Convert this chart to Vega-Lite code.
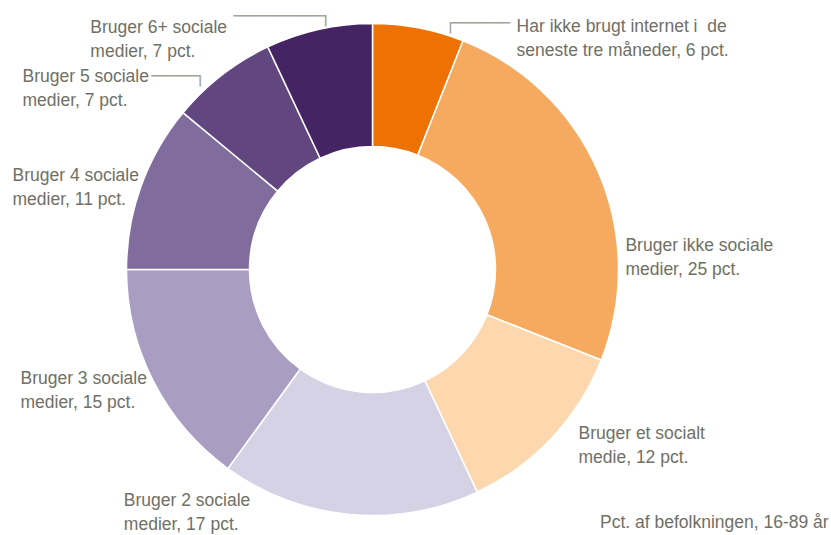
{
  "$schema": "https://vega.github.io/schema/vega-lite/v6.json",
  "width": 745,
  "height": 539,
  "autosize": "none",
  "padding": {"left": 0, "top": 0, "right": 86, "bottom": 0},
  "background": "white",
  "config": {"view": {"stroke": null}},
  "data": {
    "values": [
      {"cat": "Har ikke brugt internet", "label": "Har ikke brugt internet i\u00a0 de\nseneste tre måneder, 6 pct.", "value": 6, "order": 1},
      {"cat": "Bruger ikke sociale medier", "label": "Bruger ikke sociale\nmedier, 25 pct.", "value": 25, "order": 2},
      {"cat": "Bruger et socialt medie", "label": "Bruger et socialt\nmedie, 12 pct.", "value": 12, "order": 3},
      {"cat": "Bruger 2 sociale medier", "label": "Bruger 2 sociale\nmedier, 17 pct.", "value": 17, "order": 4},
      {"cat": "Bruger 3 sociale medier", "label": "Bruger 3 sociale\nmedier, 15 pct.", "value": 15, "order": 5},
      {"cat": "Bruger 4 sociale medier", "label": "Bruger 4 sociale\nmedier, 11 pct.", "value": 11, "order": 6},
      {"cat": "Bruger 5 sociale medier", "label": "Bruger 5 sociale\nmedier, 7 pct.", "value": 7, "order": 7},
      {"cat": "Bruger 6+ sociale medier", "label": "Bruger 6+ sociale\nmedier, 7 pct.", "value": 7, "order": 8}
    ]
  },
  "encoding": {
    "theta": {"field": "value", "type": "quantitative", "stack": true},
    "order": {"field": "order", "type": "quantitative"},
    "detail": {"field": "cat", "type": "nominal"}
  },
  "layer": [
    {
      "mark": {"type": "arc", "innerRadius": 123, "outerRadius": 246, "stroke": "white", "strokeWidth": 1.5},
      "encoding": {
        "color": {
          "field": "cat",
          "type": "nominal",
          "scale": {
            "domain": ["Har ikke brugt internet", "Bruger ikke sociale medier", "Bruger et socialt medie", "Bruger 2 sociale medier", "Bruger 3 sociale medier", "Bruger 4 sociale medier", "Bruger 5 sociale medier", "Bruger 6+ sociale medier"],
            "range": ["#EE7203", "#F5AA5F", "#FDD8AF", "#D5D2E6", "#A99DC2", "#806C9D", "#624680", "#452463"]
          },
          "legend": null
        }
      }
    },
    {
      "mark": {"type": "text", "radius": 262, "align": "left", "baseline": "alphabetic", "dx": 95, "dy": 20, "font": "Liberation Sans", "fontSize": 17.5, "color": "#707066", "lineBreak": "\n", "lineHeight": 24},
      "encoding": {"text": {"condition": {"test": "datum.cat === 'Har ikke brugt internet'", "field": "label", "type": "nominal"}, "value": ""}}
    },
    {
      "mark": {"type": "text", "radius": 262, "align": "left", "baseline": "alphabetic", "dx": 12.5, "dy": 86, "font": "Liberation Sans", "fontSize": 17.5, "color": "#707066", "lineBreak": "\n", "lineHeight": 24},
      "encoding": {"text": {"condition": {"test": "datum.cat === 'Bruger ikke sociale medier'", "field": "label", "type": "nominal"}, "value": ""}}
    },
    {
      "mark": {"type": "text", "radius": 262, "align": "left", "baseline": "alphabetic", "dx": 15, "dy": -10, "font": "Liberation Sans", "fontSize": 17.5, "color": "#707066", "lineBreak": "\n", "lineHeight": 24},
      "encoding": {"text": {"condition": {"test": "datum.cat === 'Bruger et socialt medie'", "field": "label", "type": "nominal"}, "value": ""}}
    },
    {
      "mark": {"type": "text", "radius": 262, "align": "left", "baseline": "alphabetic", "dx": -224, "dy": -24, "font": "Liberation Sans", "fontSize": 17.5, "color": "#707066", "lineBreak": "\n", "lineHeight": 24},
      "encoding": {"text": {"condition": {"test": "datum.cat === 'Bruger 2 sociale medier'", "field": "label", "type": "nominal"}, "value": ""}}
    },
    {
      "mark": {"type": "text", "radius": 262, "align": "left", "baseline": "alphabetic", "dx": -118.6, "dy": -4, "font": "Liberation Sans", "fontSize": 17.5, "color": "#707066", "lineBreak": "\n", "lineHeight": 24},
      "encoding": {"text": {"condition": {"test": "datum.cat === 'Bruger 3 sociale medier'", "field": "label", "type": "nominal"}, "value": ""}}
    },
    {
      "mark": {"type": "text", "radius": 262, "align": "left", "baseline": "alphabetic", "dx": -113.5, "dy": 0.7, "font": "Liberation Sans", "fontSize": 17.5, "color": "#707066", "lineBreak": "\n", "lineHeight": 24},
      "encoding": {"text": {"condition": {"test": "datum.cat === 'Bruger 4 sociale medier'", "field": "label", "type": "nominal"}, "value": ""}}
    },
    {
      "mark": {"type": "text", "radius": 262, "align": "left", "baseline": "alphabetic", "dx": -189.4, "dy": 20, "font": "Liberation Sans", "fontSize": 17.5, "color": "#707066", "lineBreak": "\n", "lineHeight": 24},
      "encoding": {"text": {"condition": {"test": "datum.cat === 'Bruger 5 sociale medier'", "field": "label", "type": "nominal"}, "value": ""}}
    },
    {
      "mark": {"type": "text", "radius": 262, "align": "left", "baseline": "alphabetic", "dx": -225, "dy": 18.7, "font": "Liberation Sans", "fontSize": 17.5, "color": "#707066", "lineBreak": "\n", "lineHeight": 24},
      "encoding": {"text": {"condition": {"test": "datum.cat === 'Bruger 6+ sociale medier'", "field": "label", "type": "nominal"}, "value": ""}}
    },
    {
      "mark": {"type": "text", "radius": 262, "align": "left", "baseline": "alphabetic", "dx": 23.5, "dy": 16.6, "font": "DejaVu Sans Mono", "fontSize": 18, "color": "#A3A398"},
      "encoding": {"text": {"condition": {"test": "datum.cat === 'Har ikke brugt internet'", "value": "┌─────"}, "value": ""}}
    },
    {
      "mark": {"type": "text", "radius": 262, "align": "left", "baseline": "alphabetic", "dx": -60.4, "dy": 19.2, "font": "DejaVu Sans Mono", "fontSize": 18, "color": "#A3A398"},
      "encoding": {"text": {"condition": {"test": "datum.cat === 'Bruger 5 sociale medier'", "value": "────┐"}, "value": ""}}
    },
    {
      "mark": {"type": "text", "radius": 262, "align": "left", "baseline": "alphabetic", "dx": -81.9, "dy": 7.9, "font": "DejaVu Sans Mono", "fontSize": 18, "color": "#A3A398"},
      "encoding": {"text": {"condition": {"test": "datum.cat === 'Bruger 6+ sociale medier'", "value": "────────┐"}, "value": ""}}
    },
    {
      "data": {"values": [{"cat": "note", "note": "Pct. af befolkningen, 16-89 år", "value": 100, "order": 1}]},
      "mark": {"type": "text", "radius": 258, "align": "left", "baseline": "alphabetic", "dx": 227.5, "dy": 0, "font": "Liberation Sans", "fontSize": 17.5, "color": "#707066"},
      "encoding": {
        "text": {"field": "note", "type": "nominal"}
      }
    }
  ]
}
